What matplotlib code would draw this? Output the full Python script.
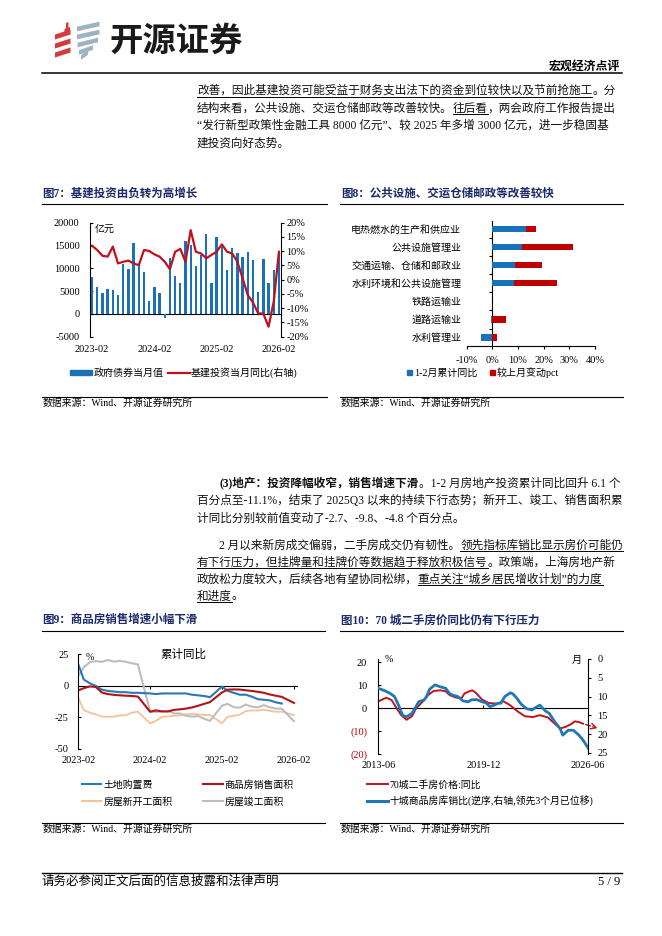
import numpy as np
import pandas as pd
import matplotlib
matplotlib.use('Agg')
import matplotlib.pyplot as plt
import matplotlib.dates as mdates
from matplotlib.lines import Line2D
from matplotlib.patches import Patch, Polygon

W, H = 662, 936
CJK = 'Noto Sans CJK SC'
plt.rcParams['font.family'] = ['Liberation Serif', CJK, 'DejaVu Sans']
plt.rcParams['axes.unicode_minus'] = False
plt.rcParams['axes.linewidth'] = 0.8

NAVY = '#1b2a6b'
BLUE = '#1a71b8'
RED = '#c0111f'

# ---------------- data ----------------
# fig 7: monthly 2023-02 .. 2026-02
ticks7 = ['2023-02', '2024-02', '2025-02', '2026-02']
bond7 = [8000, 6000, 4500, 5500, 5200, 4100, 10900, 9800, 15600, 10700, 9200, 2900,
         5900, 4500, -950, 12200, 8300, 6800, 16000, 15200, 10400, 12900, 17500, 6800,
         16800, 14600, 9700, 14400, 13400, 12400, 13600, 11800, 4800, 12000, 6700, 9600, 13900]
infra7 = [11.9, 10.4, 8.4, 8.1, 11.6, 5.7, 6.3, 6.7, 5.7, 5.1, 10.4, 10.1,
          8.9, 8.1, 6.3, 3.7, 9.8, 10.8, 6.3, 17.4, 9.8, 9.2, 7.5, 8.7,
          9.8, 12.4, 9.8, 9.2, 6.3, 0.5, -5.4, -8.0, -11.8, -11.9, -16.5, -7.7, 9.8]

# fig 8
cats8 = ['电热燃水的生产和供应业', '公共设施管理业', '交通运输、仓储和邮政业',
         '水利环境和公共设施管理', '铁路运输业', '道路运输业', '水利管理业']
yoy8 = np.array([13.0, 11.5, 9.0, 8.3, 0.0, -0.5, -4.4])
chg8 = np.array([4.0, 19.8, 10.3, 16.9, 0.0, 5.3, 1.8])

# fig 9: cumulative yoy, Jan not published
months9 = [f'{y}-{m:02d}' for y in (2023, 2024, 2025) for m in range(2, 13)] + ['2026-02']
land9 = [17, 5, 2, 0, -3, -4, -4.5, -5, -5, -5.5, -5.5,
         -6, -6.5, -6, -6, -6, -6, -6, -7, -7.5, -8, -9,
         -0.5, -4, -5.5, -7, -7, -8.5, -10.5, -11, -11.5, -13, -14,
         np.nan]
sales9 = [-3.6, -1.8, -0.4, -0.9, -5.3, -6.5, -7.1, -7.5, -7.8, -8.0, -8.5,
          -20.5, -19.4, -20.2, -20.3, -19.0, -18.6, -18.0, -17.1, -15.8, -14.3, -12.9,
          -5.1, -3.0, -2.8, -2.9, -3.5, -4.0, -4.7, -5.5, -6.8, -7.8, -8.7,
          -13.5]
new9 = [-9.4, -19.2, -21.2, -22.6, -24.3, -24.5, -24.4, -23.4, -23.2, -21.2, -20.4,
        -29.7, -27.8, -24.6, -24.2, -23.7, -23.2, -22.5, -22.2, -22.6, -23.0, -23.0,
        -29.6, -24.4, -23.8, -22.8, -20.0, -19.4, -19.5, -18.9, -19.8, -20.5, -20.4,
        -23.1]
done9 = [8.0, 14.7, 18.8, 19.6, 19.0, 20.5, 19.2, 19.8, 19.0, 17.9, 17.0,
         -20.2, -20.7, -20.4, -19.8, -21.8, -21.8, -23.6, -24.4, -23.9, -26.0, -27.7,
         -15.6, -14.3, -16.9, -17.3, -14.8, -16.5, -17.0, -15.3, -16.9, -18.0, -18.1,
         -27.9]
ticks9 = ['2023-02', '2024-02', '2025-02', '2026-02']

# fig 10
red10_dates = ['2013-06', '2013-12', '2014-04', '2014-07', '2014-11', '2015-03', '2015-07',
               '2015-10', '2016-04', '2016-07', '2016-11', '2017-04', '2017-08', '2017-11',
               '2018-04', '2018-08', '2018-10', '2019-02', '2019-04', '2019-07', '2019-11',
               '2020-04', '2020-10', '2021-03', '2021-08', '2022-02', '2022-07', '2023-01',
               '2023-06', '2023-12', '2024-05', '2024-09', '2025-01', '2025-05', '2025-08',
               '2025-11', '2026-02']
red10 = [3.0, 4.6, 3.5, 0.6, -3.0, -5.0, -3.5, -0.1, 3.5, 5.7, 7.5, 7.8, 7.4, 5.7,
         4.6, 4.5, 6.4, 7.5, 7.8, 6.4, 3.8, 2.3, 2.0, 3.0, 1.3, -1.6, -3.5, -3.8,
         -3.0, -4.0, -6.7, -8.8, -8.1, -7.0, -5.7, -6.0, -6.7]
blue10_dates = ['2013-06', '2013-11', '2014-03', '2014-06', '2014-09', '2014-12', '2015-03',
                '2015-07', '2015-10', '2015-12', '2016-04', '2016-06', '2016-08', '2016-12',
                '2017-04', '2017-08', '2017-11', '2018-01', '2018-05', '2018-09', '2019-01',
                '2019-03', '2019-07', '2019-11', '2020-02', '2020-05', '2020-08', '2020-11',
                '2021-01', '2021-04', '2021-08', '2021-10', '2022-01', '2022-04', '2022-08',
                '2022-12', '2023-04', '2023-06', '2023-10', '2024-01', '2024-05', '2024-09',
                '2024-11', '2025-03', '2025-07', '2025-11', '2026-02', '2026-06']
blue10 = [7.8, 8.5, 9.2, 10.0, 12.3, 15.0, 15.4, 14.5, 12.7, 11.4, 10.9, 9.9, 8.1, 6.9,
          7.4, 7.8, 9.2, 9.6, 10.0, 11.2, 11.4, 10.9, 10.8, 11.4, 11.7, 12.7, 12.3, 11.8,
          11.8, 10.0, 9.0, 9.3, 10.5, 12.0, 13.2, 13.6, 12.7, 12.3, 13.8, 14.5, 16.7, 18.5,
          20.3, 19.0, 19.0, 20.3, 21.6, 23.8]
ticks10 = ['2013-06', '2019-12', '2026-06']


def dnum(lst):
    return mdates.date2num(pd.to_datetime(lst))


# ---------------- page helpers ----------------
fig = plt.figure(figsize=(W / 100, H / 100), dpi=100)
rend = fig.canvas.get_renderer()


def fx(x):
    return x / W


def fy(y):
    return 1 - y / H


def rect(x0, y0, x1, y1):
    return [x0 / W, 1 - y1 / H, (x1 - x0) / W, (y1 - y0) / H]


def hline(x0, x1, y, lw=0.8):
    fig.add_artist(Line2D([fx(x0), fx(x1)], [fy(y), fy(y)], color='k', lw=lw))


def put(x, y, s, size=7.1, **kw):
    kw.setdefault('va', 'center')
    return fig.text(fx(x), fy(y), s, fontsize=size, **kw)


def para_line(x, y, parts, size=8.4):
    # parts: (text, style) with 'b' bold, 'u' underline; y is baseline
    for s, st in parts:
        t = fig.text(fx(x), fy(y), s, fontsize=size, va='baseline', color='#111111',
                     fontweight='bold' if 'b' in st else 'normal')
        bb = t.get_window_extent(rend)
        if 'u' in st:
            hline(bb.x0, bb.x1, y + 2.6, lw=0.7)
        x = bb.x1


def chart_frame(x0, x1, y_title, y_tline, y_sline, title):
    put(x0 + 1, y_title, title, size=8.3, fontweight='bold', color=NAVY)
    hline(x0, x1, y_tline)
    hline(x0, x1, y_sline)
    put(x0 + 1, y_sline + 6, '数据来源：Wind、开源证券研究所', size=7.1)


def zero_axis(ax, frac, ticks):
    sec = ax.secondary_xaxis(frac)
    sec.set_xticks(ticks, [''] * len(ticks))
    sec.tick_params(direction='in', length=2.5, labelbottom=False, labeltop=False)
    return sec


# ---------------- header ----------------
logo = fig.add_axes(rect(50, 18, 104, 62))
logo.set_xlim(50, 104)
logo.set_ylim(62, 18)
logo.axis('off')


def stripe(x0, x1, yc, slant, th, color):
    pts = [(x0, yc + th / 2), (x1, yc - slant + th / 2), (x1, yc - slant - th / 2), (x0, yc - th / 2)]
    logo.add_patch(Polygon(pts, closed=True, color=color, lw=0))


for yc in (37, 46, 55):
    stripe(55, 70.5, yc, 5, 5, '#d63a3c')
stripe(64.5, 70, 31, 2, 4, '#d63a3c')
stripe(66, 68.5, 26, 1, 6, '#d63a3c')
for yc, xa, xb in ((29, 77, 99.5), (37, 77, 99.5), (45, 77.5, 98), (52.5, 79, 93), (57.5, 81, 88)):
    stripe(xa, xb, yc, 5, 4.6, '#9db3c1')

put(110, 41, '开源证券', size=24, fontweight='bold', family=CJK, color='#1a1a1a')
put(620, 67, '宏观经济点评', size=8.6, fontweight='bold', ha='right')
hline(41.7, 621.7, 73, lw=1.1)

para_line(197, 94, [('改善，因此基建投资可能受益于财务支出法下的资金到位较快以及节前抢施工', 'u'), ('。分', '')])
para_line(197, 111.5, [('结构来看，公共设施、交运仓储邮政等改善较快。', ''), ('往后看', 'u'),
                       ('，两会政府工作报告提出', '')])
para_line(197, 129, [('“发行新型政策性金融工具 8000 亿元”、较 2025 年多增 3000 亿元，进一步稳固基', '')])
para_line(197, 146.5, [('建投资向好态势。', '')])

# ---------------- fig 7 ----------------
chart_frame(41.7, 326.7, 194, 204, 397.3, '图7：基建投资由负转为高增长')
ax7 = fig.add_axes(rect(90, 222.7, 281, 336.7))
x7 = np.arange(len(bond7))
ax7.bar(x7, bond7, width=0.45, color=BLUE, zorder=2)
ax7.set_xlim(-0.4, len(bond7) - 0.6)
ax7.set_ylim(-5000, 20000)
ax7.set_yticks(range(-5000, 20001, 5000))
ax7.set_xticks([0, 12, 24, 36], ticks7)
ax7.tick_params(axis='x', length=0, pad=6, labelsize=7.5)
ax7.tick_params(axis='y', direction='in', length=2.5, pad=7.5, labelsize=7.5)
for s in ('top', 'bottom', 'right'):
    ax7.spines[s].set_visible(False)
zero_axis(ax7, 5000 / 25000, [12, 24])
ax7r = ax7.twinx()
ax7r.plot(x7, infra7, color=RED, lw=1.6)
ax7r.set_ylim(-20, 20)
ax7r.set_yticks(range(-20, 21, 5), [f'{v}%' for v in range(-20, 21, 5)])
ax7r.tick_params(axis='y', direction='out', length=2.5, pad=1.5, labelsize=7.5)
for s in ('top', 'bottom', 'left'):
    ax7r.spines[s].set_visible(False)
ax7.text(0.025, 0.985, '亿元', transform=ax7.transAxes, fontsize=7.2, va='top', ha='left')
fig.legend([Patch(color=BLUE), Line2D([], [], color=RED, lw=1.6)],
           ['政府债券当月值', '基建投资当月同比(右轴)'],
           loc='center', bbox_to_anchor=(fx(184), fy(372.7)), ncol=2, frameon=False,
           fontsize=7.2, handlelength=2.2, handleheight=0.4, handletextpad=0.15,
           columnspacing=0.4, borderpad=0, borderaxespad=0)

# ---------------- fig 8 ----------------
chart_frame(340, 622.7, 194, 204, 397.3, '图8：公共设施、交运仓储邮政等改善较快')
ax8 = fig.add_axes(rect(466.7, 220.7, 595, 345.7))
y8 = np.arange(len(cats8))
ax8.barh(y8, yoy8, height=0.34, color=BLUE)
ax8.barh(y8, chg8, left=np.clip(yoy8, 0, None), height=0.34, color='#c00000')
ax8.set_xlim(-10, 40)
ax8.set_ylim(len(cats8) - 0.55, -0.46)
ax8.set_yticks(y8, cats8, fontsize=7.2)
ax8.tick_params(axis='y', length=0, pad=4)
ax8.set_xticks(range(-10, 41, 10), [f'{v}%' for v in range(-10, 41, 10)])
ax8.tick_params(axis='x', direction='out', length=2.5, pad=5, labelsize=7.5)
for s in ('top', 'right', 'left'):
    ax8.spines[s].set_visible(False)
sec8 = ax8.secondary_yaxis(10 / 50)
sep8 = np.arange(-0.5, len(cats8), 1)
sec8.set_yticks(sep8, [''] * len(sep8))
sec8.tick_params(direction='out', length=2.5, labelleft=False, labelright=False)
fig.legend([Patch(color=BLUE), Patch(color='#c00000')], ['1-2月累计同比', '较上月变动pct'],
           loc='center', bbox_to_anchor=(fx(483), fy(372.7)), ncol=2, frameon=False,
           fontsize=7.2, handlelength=0.5, handleheight=0.5, handletextpad=0.25,
           columnspacing=1.2, borderpad=0, borderaxespad=0)

# ---------------- middle text ----------------
para_line(219.3, 486.5, [('(3)地产：投资降幅收窄，销售增速下滑', 'b'),
                         ('。1-2 月房地产投资累计同比回升 6.1 个', '')])
para_line(197, 504, [('百分点至-11.1%，结束了 2025Q3 以来的持续下行态势；新开工、竣工、销售面积累', '')])
para_line(197, 521.5, [('计同比分别较前值变动了-2.7、-9.8、-4.8 个百分点。', '')])
para_line(219.3, 548.5, [('2 月以来新房成交偏弱，二手房成交仍有韧性。', ''),
                         ('领先指标库销比显示房价可能仍', 'u')])
para_line(197, 565.5, [('有下行压力，但挂牌量和挂牌价等数据趋于释放积极信号', 'u'),
                       ('。政策端，上海房地产新', '')])
para_line(197, 582.5, [('政放松力度较大，后续各地有望协同松绑，', ''),
                       ('重点关注“城乡居民增收计划”的力度', 'u')])
para_line(197, 599.5, [('和进度', 'u'), ('。', '')])

# ---------------- fig 9 ----------------
chart_frame(41.7, 325, 620, 631, 823.3, '图9：商品房销售增速小幅下滑')
ax9 = fig.add_axes(rect(78.3, 654.3, 296.7, 749))
d9 = dnum(months9)
ax9.plot(d9, new9, color='#f6c29a', lw=1.3)
ax9.plot(d9, done9, color='#bdbdbd', lw=1.5)
ax9.plot(d9, land9, color='#2a78b5', lw=1.5)
ax9.plot(d9, sales9, color='#b3121b', lw=1.5)
ax9.set_ylim(-50, 25)
ax9.set_yticks([-50, -25, 0, 25])
ax9.set_xlim(dnum(['2023-02'])[0], dnum(['2026-02-15'])[0])
ax9.set_xticks(dnum(ticks9), ticks9)
ax9.tick_params(axis='x', length=0, pad=5, labelsize=7.5)
ax9.tick_params(axis='y', direction='in', length=2.5, pad=7, labelsize=7.5)
for s in ('top', 'bottom', 'right'):
    ax9.spines[s].set_visible(False)
zero_axis(ax9, 50 / 75, dnum(ticks9[1:]))
put(89.5, 657, '%', size=7.2, ha='center')
put(183, 654.3, '累计同比', size=8.3, ha='center')
h9 = [Line2D([], [], color='#2a78b5', lw=1.5), Line2D([], [], color='#f6c29a', lw=1.5),
      Line2D([], [], color='#b3121b', lw=1.5), Line2D([], [], color='#bdbdbd', lw=1.5)]
fig.legend(h9, ['土地购置费', '房屋新开工面积', '商品房销售面积', '房屋竣工面积'],
           loc='center left', bbox_to_anchor=(fx(81.7), fy(793.4)), ncol=2, frameon=False,
           fontsize=7.1, handlelength=2.0, handletextpad=0.2, columnspacing=3.1,
           labelspacing=0.7, borderpad=0, borderaxespad=0)

# ---------------- fig 10 ----------------
chart_frame(340, 622.7, 621, 631, 823.3, '图10：70 城二手房价同比仍有下行压力')
ax10 = fig.add_axes(rect(378.3, 659, 588.3, 754.3))
rd = dnum(red10_dates)
ax10.plot(rd, red10, color='#c0141c', lw=1.4)
ax10.set_ylim(-20, 21.4)
ax10.set_yticks([-20, -10, 0, 10, 20], ['(20)', '(10)', '0', '10', '20'])
for lab, v in zip(ax10.get_yticklabels(), [-20, -10, 0, 10, 20]):
    if v < 0:
        lab.set_color('#c00000')
ax10.set_xlim(dnum(['2013-06'])[0], dnum(['2026-06'])[0])
ax10.set_xticks(dnum(ticks10), ticks10)
ax10.tick_params(axis='x', length=0, pad=5, labelsize=7.5)
ax10.tick_params(axis='y', direction='in', length=2.5, pad=8, labelsize=7.5)
for s in ('top', 'bottom', 'right'):
    ax10.spines[s].set_visible(False)
zero_axis(ax10, 20 / 41.4, dnum(['2019-12']))
ax10r = ax10.twinx()
ax10r.plot(dnum(blue10_dates), blue10, color='#1f77b4', lw=2.0)
ax10r.set_ylim(25.4, 0)
ax10r.set_yticks(range(0, 26, 5))
ax10r.tick_params(axis='y', direction='out', length=2.5, pad=4, labelsize=7.5)
for s in ('top', 'bottom', 'left'):
    ax10r.spines[s].set_visible(False)
ax10.annotate('', xy=(dnum(['2027-01'])[0], -8.7), xytext=(rd[-1], red10[-1]),
              annotation_clip=False,
              arrowprops=dict(arrowstyle='->', linestyle='--', color='#c0141c', lw=1.0,
                              shrinkA=2, shrinkB=0))
put(389, 660, '%', size=7.2, ha='center')
put(576.7, 660, '月', size=7.2, ha='center')
fig.legend([Line2D([], [], color='#c0141c', lw=1.4), Line2D([], [], color='#1f77b4', lw=2.2)],
           ['70城二手房价格:同比', '十城商品房库销比(逆序,右轴,领先3个月已位移)'],
           loc='center left', bbox_to_anchor=(fx(366.7), fy(793)), ncol=1, frameon=False,
           fontsize=7.1, handlelength=2.2, handletextpad=0.15, labelspacing=0.6,
           borderpad=0, borderaxespad=0)

# ---------------- footer ----------------
hline(41.7, 621.7, 873.3, lw=1.0)
put(41.7, 882, '请务必参阅正文后面的信息披露和法律声明', size=9)
put(620, 882, '5 / 9', size=9, ha='right')

fig.savefig('out.png', dpi=100)
